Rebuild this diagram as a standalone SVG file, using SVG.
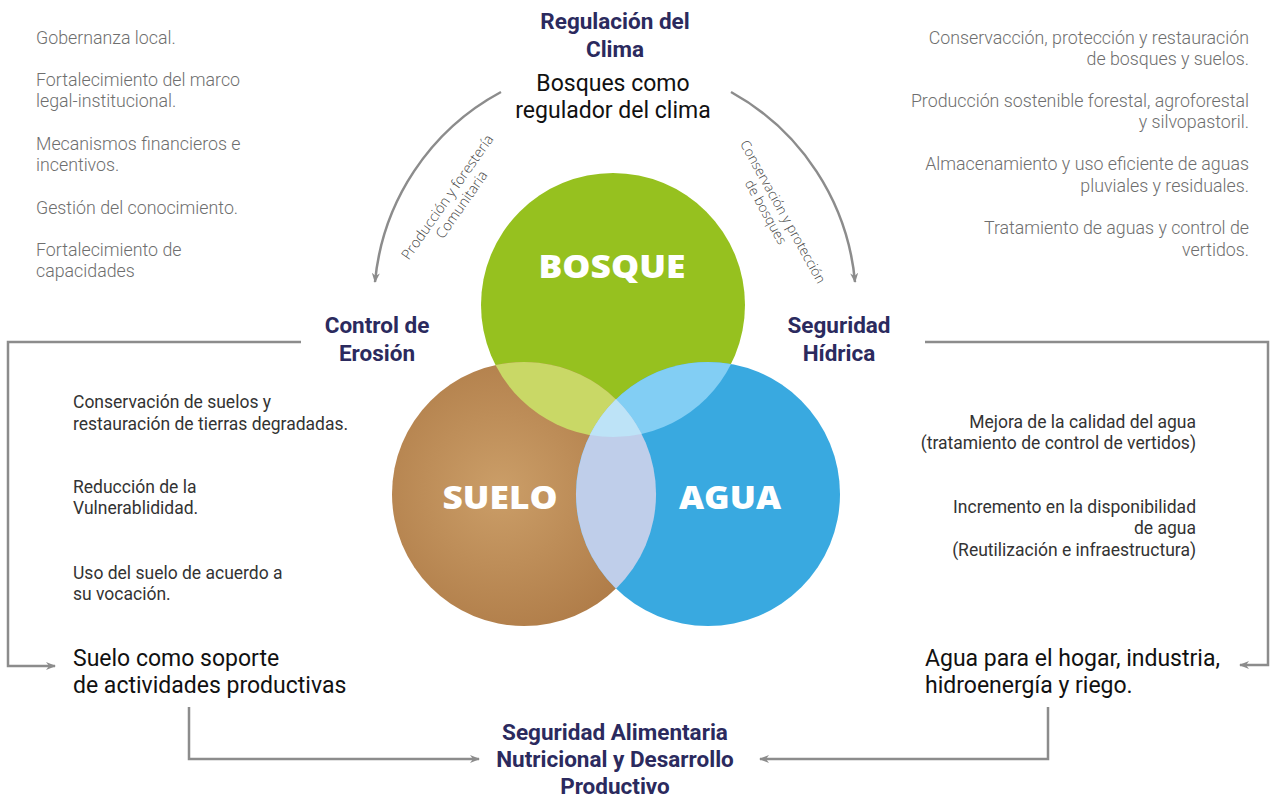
<svg xmlns="http://www.w3.org/2000/svg" width="1270" height="798" viewBox="0 0 1270 798">
<defs>
<radialGradient id="brown" cx="500" cy="490" r="150" gradientUnits="userSpaceOnUse">
<stop offset="0" stop-color="#CB9E68"/>
<stop offset="1" stop-color="#B07D49"/>
</radialGradient>
<marker id="ah" viewBox="0 0 10 10" refX="9" refY="5" markerWidth="10" markerHeight="10" markerUnits="userSpaceOnUse" orient="auto">
<path d="M0,1 L10,5 L0,9 L3,5 Z" fill="#8C8C8C"/>
</marker>
<style>
.title{font-family:Roboto,"Liberation Sans",sans-serif;font-weight:700;font-size:22.5px;fill:#2B2A5E;text-anchor:middle}
.big{font-family:Roboto,"Liberation Sans",sans-serif;font-size:23px;fill:#111}
.gray{font-family:Roboto,"Liberation Sans",sans-serif;font-size:17.8px;fill:#6E6E6E;font-weight:300}
.dark{font-family:Roboto,"Liberation Sans",sans-serif;font-size:17.5px;fill:#333;font-weight:400}
.rot{font-family:"Open Sans","Liberation Sans",sans-serif;font-size:14.3px;fill:#444;font-weight:300;text-anchor:middle}
.cl{font-family:"Open Sans","Liberation Sans",sans-serif;font-weight:800;font-size:31px;fill:#fff;text-anchor:middle}
.con{fill:none;stroke:#8C8C8C;stroke-width:2.5}
</style>
</defs>

<g id="connectors">
<path class="con" d="M501,92 A241,241 0 0 0 375,282" marker-end="url(#ah)"/>
<path class="con" d="M731,92 A242,242 0 0 1 855,282" marker-end="url(#ah)"/>
<path class="con" d="M301,342 H8 V666 H55" marker-end="url(#ah)"/>
<path class="con" d="M925,342 H1268 V665 H1240" marker-end="url(#ah)"/>
<path class="con" d="M189,707 V759 H479" marker-end="url(#ah)"/>
<path class="con" d="M1048,707 V759 H760" marker-end="url(#ah)"/>
</g>

<g id="label-left-arc">
<g transform="translate(453,201) rotate(-55)">
<text class="rot" x="0" y="-2">Producción y forestería</text>
<text class="rot" x="2" y="14">Comunitaria</text>
</g>
</g>
<g id="label-right-arc">
<g transform="translate(777,215) rotate(61)">
<text class="rot" x="0" y="-2" style="font-size:13.6px">Conservación y protección</text>
<text class="rot" x="-8" y="13" style="font-size:13.6px">de bosques</text>
</g>
</g>

<g id="venn">
<circle id="bosque" cx="613" cy="305" r="132" fill="#96C11F"/>
<circle id="suelo" cx="524" cy="494" r="132" fill="url(#brown)"/>
<circle id="agua" cx="708" cy="494" r="132" fill="#39A9E0"/>
<path id="lens-bs" d="M495.5,365.1 A132,132 0 0 1 641.5,433.9 A132,132 0 0 1 495.5,365.1 Z" fill="#C9D866"/>
<path id="lens-ba" d="M731.1,364 A132,132 0 0 0 589.9,435 A132,132 0 0 0 731.1,364 Z" fill="#82CEF4"/>
<path id="lens-sa" d="M616,399.3 A132,132 0 0 1 616,588.7 A132,132 0 0 1 616,399.3 Z" fill="#BFCEEA"/>
<path id="lens-all" d="M616,399.3 A132,132 0 0 1 641.5,433.9 A132,132 0 0 1 589.9,435 A132,132 0 0 1 616,399.3 Z" fill="#BDE3F7"/>
<text class="cl" x="612" y="278" textLength="147" lengthAdjust="spacingAndGlyphs">BOSQUE</text>
<text class="cl" x="500" y="509" textLength="115" lengthAdjust="spacingAndGlyphs">SUELO</text>
<text class="cl" x="730" y="509" textLength="102" lengthAdjust="spacingAndGlyphs">AGUA</text>
</g>

<g id="node-clima">
<text class="title" x="615" y="29">Regulación del</text>
<text class="title" x="615" y="57">Clima</text>
<text class="big" x="613" y="91" text-anchor="middle">Bosques como</text>
<text class="big" x="613" y="118" text-anchor="middle">regulador del clima</text>
</g>

<g id="node-erosion">
<text class="title" x="377" y="333">Control de</text>
<text class="title" x="377" y="361">Erosión</text>
</g>

<g id="node-hidrica">
<text class="title" x="839" y="333">Seguridad</text>
<text class="title" x="839" y="361">Hídrica</text>
</g>

<g id="node-alimentaria">
<text class="title" x="615" y="740">Seguridad Alimentaria</text>
<text class="title" x="615" y="767">Nutricional y Desarrollo</text>
<text class="title" x="615" y="794">Productivo</text>
</g>

<g id="list-topleft">
<text class="gray" x="36" y="44">Gobernanza local.</text>
<text class="gray" x="36" y="86">Fortalecimiento del marco</text>
<text class="gray" x="36" y="107">legal-institucional.</text>
<text class="gray" x="36" y="150">Mecanismos financieros e</text>
<text class="gray" x="36" y="171">incentivos.</text>
<text class="gray" x="36" y="214">Gestión del conocimiento.</text>
<text class="gray" x="36" y="256">Fortalecimiento de</text>
<text class="gray" x="36" y="277">capacidades</text>
</g>

<g id="list-topright" text-anchor="end">
<text class="gray" x="1249" y="44">Conservacción, protección y restauración</text>
<text class="gray" x="1249" y="65">de bosques y suelos.</text>
<text class="gray" x="1249" y="107">Producción sostenible forestal, agroforestal</text>
<text class="gray" x="1249" y="128">y silvopastoril.</text>
<text class="gray" x="1249" y="170">Almacenamiento y uso eficiente de aguas</text>
<text class="gray" x="1249" y="192">pluviales y residuales.</text>
<text class="gray" x="1249" y="234">Tratamiento de aguas y control de</text>
<text class="gray" x="1249" y="256">vertidos.</text>
</g>

<g id="list-suelo">
<text class="dark" x="73" y="408">Conservación de suelos y</text>
<text class="dark" x="73" y="430">restauración de tierras degradadas.</text>
<text class="dark" x="73" y="493">Reducción de la</text>
<text class="dark" x="73" y="514">Vulnerablididad.</text>
<text class="dark" x="73" y="579">Uso del suelo de acuerdo a</text>
<text class="dark" x="73" y="600">su vocación.</text>
</g>

<g id="list-agua" text-anchor="end">
<text class="dark" x="1196" y="428">Mejora de la calidad del agua</text>
<text class="dark" x="1196" y="449">(tratamiento de control de vertidos)</text>
<text class="dark" x="1196" y="513">Incremento en la disponibilidad</text>
<text class="dark" x="1196" y="534">de agua</text>
<text class="dark" x="1196" y="556">(Reutilización e infraestructura)</text>
</g>

<g id="node-suelo-out">
<text class="big" x="73" y="666">Suelo como soporte</text>
<text class="big" x="73" y="693">de actividades productivas</text>
</g>

<g id="node-agua-out">
<text class="big" x="925" y="666">Agua para el hogar, industria,</text>
<text class="big" x="925" y="693">hidroenergía y riego.</text>
</g>
</svg>
